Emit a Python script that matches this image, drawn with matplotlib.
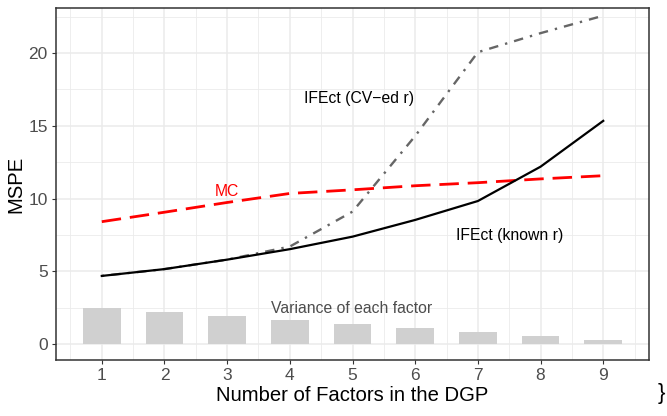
import matplotlib.pyplot as plt
import numpy as np
from matplotlib.ticker import MultipleLocator

plt.rcParams['font.family'] = ['Liberation Sans', 'DejaVu Sans']

# number of factors in the data generating process
factors = [1, 2, 3, 4, 5, 6, 7, 8, 9]
# mean squared prediction error for each estimator
mspe_known = [4.68, 5.15, 5.80, 6.52, 7.38, 8.53, 9.83, 12.19, 15.34]
mspe_cv = [4.68, 5.15, 5.80, 6.70, 9.10, 14.30, 20.06, 21.37, 22.57]
mspe_mc = [8.41, 9.06, 9.73, 10.35, 10.60, 10.88, 11.09, 11.35, 11.57]
# variance of each factor
factor_var = [2.50, 2.22, 1.94, 1.67, 1.39, 1.11, 0.83, 0.56, 0.28]

fig = plt.figure(figsize=(6.67, 4.16), dpi=100)
ax = fig.add_axes([0.084, 0.1346, 0.889, 0.8462])

ax.bar(factors, factor_var, width=0.6, color='#d0d0d0', zorder=2)
ax.plot(factors, mspe_mc, color='#ff0000', lw=2.0, dashes=(7, 3.2), zorder=3)
ax.plot(factors, mspe_cv, color='#666666', lw=1.7, dashes=(1, 3, 4, 3), zorder=3)
ax.plot(factors, mspe_known, color='black', lw=1.6, zorder=4)

ax.text(5.1, 16.9, 'IFEct (CV\u2212ed r)', ha='center', va='center', fontsize=11.3, color='black')
ax.text(3.0, 10.5, 'MC', ha='center', va='center', fontsize=11.3, color='#ff0000')
ax.text(7.51, 7.43, 'IFEct (known r)', ha='center', va='center', fontsize=11.3, color='black')
ax.text(4.99, 2.43, 'Variance of each factor', ha='center', va='center', fontsize=11.3, color='#4d4d4d')

ax.set_xlim(0.27, 9.73)
ax.set_ylim(-1.1, 23.1)
ax.set_xticks(factors)
ax.yaxis.set_major_locator(MultipleLocator(5))
ax.xaxis.set_minor_locator(MultipleLocator(1, offset=0.5))
ax.yaxis.set_minor_locator(MultipleLocator(5, offset=2.5))
ax.grid(which='major', color='#ebebeb', lw=1.1, zorder=0)
ax.grid(which='minor', color='#ebebeb', lw=0.6, zorder=0)
ax.set_axisbelow(True)
for s in ax.spines.values():
    s.set_color('#333333')
    s.set_linewidth(1.1)
ax.tick_params(which='major', length=3, width=0.8, color='#333333',
               labelsize=12.5, labelcolor='#4d4d4d', pad=3)
ax.tick_params(which='minor', length=0)

ax.set_xlabel('Number of Factors in the DGP', fontsize=14.6, labelpad=2)
ax.set_ylabel('MSPE', fontsize=14.6, labelpad=2)

fig.text(665 / 667, 1 - 393 / 416, '}', ha='right', va='center', fontsize=16)

fig.savefig('out.png', dpi=100)
